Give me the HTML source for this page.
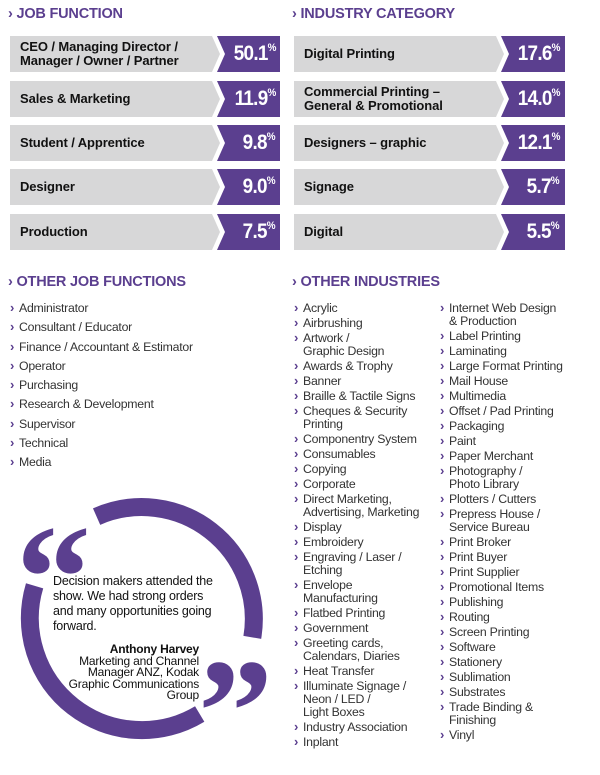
<!DOCTYPE html>
<html><head><meta charset="utf-8">
<style>
body{margin:0;width:600px;height:775px;background:#fff;position:relative;overflow:hidden;font-family:"Liberation Sans",sans-serif;}
.h{position:absolute;font-weight:bold;color:#5b3f8f;font-size:14.5px;letter-spacing:-0.2px;}
.row{position:absolute;width:272px;height:36px;}
.row svg{position:absolute;left:0;top:0}
.lab{position:absolute;left:10px;top:0;height:36px;display:flex;align-items:center;font-weight:bold;font-size:13px;line-height:14px;color:#111;letter-spacing:-0.1px}
.pct{position:absolute;right:6px;top:6px;color:#fff;font-weight:bold;font-size:21px;letter-spacing:-0.8px;transform:scaleX(0.9);transform-origin:right}
.pct sup{font-size:11px;vertical-align:9px;letter-spacing:0}
ul{list-style:none;margin:0;padding:0;position:absolute;color:#333;font-size:12.3px;letter-spacing:-0.25px}
ul li{position:relative;padding-left:9px;line-height:13px;margin-bottom:2px}
ul li:before{content:"›";position:absolute;left:0;top:-1px;color:#5b3f8f;font-weight:bold;font-size:13px}
ul.jf li{margin-bottom:6.3px}
.q{position:absolute;font-size:13px;color:#111;line-height:15px;letter-spacing:-0.2px}
</style></head><body>
<div class="h" style="left:8px;top:6px">› JOB FUNCTION</div>
<div class="h" style="left:292px;top:6px">› INDUSTRY CATEGORY</div>

<div class="row" style="left:10px;top:36px"><svg width="272" height="36"><polygon points="0,0 202,0 210,18 202,36 0,36" fill="#d7d7d8"/><polygon points="207,0 270,0 270,36 207,36 215,18" fill="#5b3f8f"/></svg><div class="lab">CEO / Managing Director /<br>Manager / Owner / Partner</div><div class="pct">50.1<sup>%</sup></div></div>
<div class="row" style="left:10px;top:81px"><svg width="272" height="36"><polygon points="0,0 202,0 210,18 202,36 0,36" fill="#d7d7d8"/><polygon points="207,0 270,0 270,36 207,36 215,18" fill="#5b3f8f"/></svg><div class="lab">Sales &amp; Marketing</div><div class="pct">11.9<sup>%</sup></div></div>
<div class="row" style="left:10px;top:125px"><svg width="272" height="36"><polygon points="0,0 202,0 210,18 202,36 0,36" fill="#d7d7d8"/><polygon points="207,0 270,0 270,36 207,36 215,18" fill="#5b3f8f"/></svg><div class="lab">Student / Apprentice</div><div class="pct">9.8<sup>%</sup></div></div>
<div class="row" style="left:10px;top:169px"><svg width="272" height="36"><polygon points="0,0 202,0 210,18 202,36 0,36" fill="#d7d7d8"/><polygon points="207,0 270,0 270,36 207,36 215,18" fill="#5b3f8f"/></svg><div class="lab">Designer</div><div class="pct">9.0<sup>%</sup></div></div>
<div class="row" style="left:10px;top:214px"><svg width="272" height="36"><polygon points="0,0 202,0 210,18 202,36 0,36" fill="#d7d7d8"/><polygon points="207,0 270,0 270,36 207,36 215,18" fill="#5b3f8f"/></svg><div class="lab">Production</div><div class="pct">7.5<sup>%</sup></div></div>

<div class="row" style="left:294px;top:36px"><svg width="272" height="36"><polygon points="0,0 202,0 210,18 202,36 0,36" fill="#d7d7d8"/><polygon points="207,0 271,0 271,36 207,36 215,18" fill="#5b3f8f"/></svg><div class="lab">Digital Printing</div><div class="pct">17.6<sup>%</sup></div></div>
<div class="row" style="left:294px;top:81px"><svg width="272" height="36"><polygon points="0,0 202,0 210,18 202,36 0,36" fill="#d7d7d8"/><polygon points="207,0 271,0 271,36 207,36 215,18" fill="#5b3f8f"/></svg><div class="lab">Commercial Printing –<br>General &amp; Promotional</div><div class="pct">14.0<sup>%</sup></div></div>
<div class="row" style="left:294px;top:125px"><svg width="272" height="36"><polygon points="0,0 202,0 210,18 202,36 0,36" fill="#d7d7d8"/><polygon points="207,0 271,0 271,36 207,36 215,18" fill="#5b3f8f"/></svg><div class="lab">Designers – graphic</div><div class="pct">12.1<sup>%</sup></div></div>
<div class="row" style="left:294px;top:169px"><svg width="272" height="36"><polygon points="0,0 202,0 210,18 202,36 0,36" fill="#d7d7d8"/><polygon points="207,0 271,0 271,36 207,36 215,18" fill="#5b3f8f"/></svg><div class="lab">Signage</div><div class="pct">5.7<sup>%</sup></div></div>
<div class="row" style="left:294px;top:214px"><svg width="272" height="36"><polygon points="0,0 202,0 210,18 202,36 0,36" fill="#d7d7d8"/><polygon points="207,0 271,0 271,36 207,36 215,18" fill="#5b3f8f"/></svg><div class="lab">Digital</div><div class="pct">5.5<sup>%</sup></div></div>

<div class="h" style="left:8px;top:274px">› OTHER JOB FUNCTIONS</div>
<div class="h" style="left:292px;top:274px">› OTHER INDUSTRIES</div>

<ul class="jf" style="left:10px;top:302px">
<li>Administrator</li><li>Consultant / Educator</li><li>Finance / Accountant &amp; Estimator</li><li>Operator</li><li>Purchasing</li><li>Research &amp; Development</li><li>Supervisor</li><li>Technical</li><li>Media</li>
</ul>

<ul style="left:294px;top:302px">
<li>Acrylic</li><li>Airbrushing</li><li>Artwork /<br>Graphic Design</li><li>Awards &amp; Trophy</li><li>Banner</li><li>Braille &amp; Tactile Signs</li><li>Cheques &amp; Security<br>Printing</li><li>Componentry System</li><li>Consumables</li><li>Copying</li><li>Corporate</li><li>Direct Marketing,<br>Advertising, Marketing</li><li>Display</li><li>Embroidery</li><li>Engraving / Laser /<br>Etching</li><li>Envelope<br>Manufacturing</li><li>Flatbed Printing</li><li>Government</li><li>Greeting cards,<br>Calendars, Diaries</li><li>Heat Transfer</li><li>Illuminate Signage /<br>Neon / LED /<br>Light Boxes</li><li>Industry Association</li><li>Inplant</li>
</ul>
<ul style="left:440px;top:302px">
<li>Internet Web Design<br>&amp; Production</li><li>Label Printing</li><li>Laminating</li><li>Large Format Printing</li><li>Mail House</li><li>Multimedia</li><li>Offset / Pad Printing</li><li>Packaging</li><li>Paint</li><li>Paper Merchant</li><li>Photography /<br>Photo Library</li><li>Plotters / Cutters</li><li>Prepress House /<br>Service Bureau</li><li>Print Broker</li><li>Print Buyer</li><li>Print Supplier</li><li>Promotional Items</li><li>Publishing</li><li>Routing</li><li>Screen Printing</li><li>Software</li><li>Stationery</li><li>Sublimation</li><li>Substrates</li><li>Trade Binding &amp;<br>Finishing</li><li>Vinyl</li>
</ul>

<svg style="position:absolute;left:0;top:480px" width="290" height="275">
<g fill="none" stroke="#5b3f8f" stroke-width="18">
<path d="M 96.6 36.6 A 112 112 0 0 1 252.3 157.4"/>
<path d="M 199.7 234 A 112 112 0 0 1 34.6 105.8"/>
</g>
<g fill="#5b3f8f" font-family="Liberation Serif,serif" font-weight="bold" font-size="150">
<text x="16" y="148">“</text>
<text x="198" y="282">”</text>
</g>
</svg>
<div class="q" style="left:53px;top:574px;width:172px;font-size:12.5px">Decision makers attended the show. We had strong orders and many opportunities going forward.</div>
<div class="q" style="left:60px;top:644px;width:139px;text-align:right;font-size:12px;line-height:11.5px"><b>Anthony Harvey</b><br>Marketing and Channel Manager ANZ, Kodak Graphic Communications Group</div>
</body></html>
